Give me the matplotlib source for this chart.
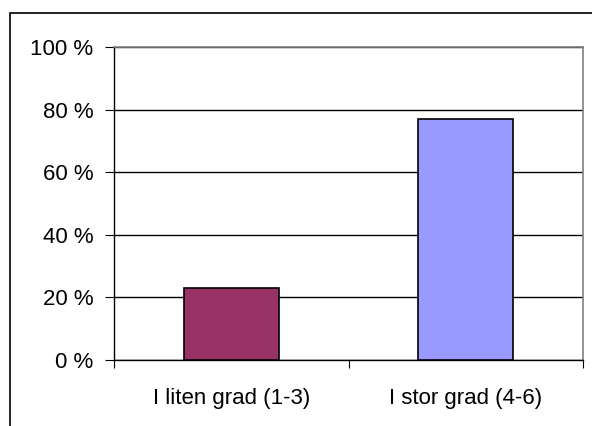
import matplotlib
matplotlib.use('Agg')
import matplotlib.pyplot as plt
from matplotlib.patches import Rectangle

categories = ['I liten grad (1-3)', 'I stor grad (4-6)']
values = [23, 77]
colors = ['#993366', '#9999FF']
yticks = [0, 20, 40, 60, 80, 100]

plt.rcParams['font.family'] = ['Liberation Sans', 'DejaVu Sans']

fig = plt.figure(figsize=(5.92, 4.26), dpi=100)
ax = fig.add_axes([114 / 592, 66 / 426, 469 / 592, 313 / 426])

# outer chart border (cut off at right and bottom like the original)
fig.add_artist(Rectangle((10 / 592, -0.05), 1.0, 413 / 426 + 0.05,
                         transform=fig.transFigure, fill=False,
                         edgecolor='black', linewidth=1.2))

x = range(len(categories))
ax.bar(x, values, width=0.405, color=colors, edgecolor='black', linewidth=1.2, zorder=3)

ax.set_xlim(-0.5, 1.5)
ax.set_ylim(0, 100)
ax.set_yticks(yticks)
ax.set_yticklabels([str(v) + ' %' for v in yticks], fontsize=16)
ax.yaxis.grid(True, color='black', linewidth=1.0, zorder=0)

ax.set_xticks([-0.5, 0.5, 1.5], minor=False)
ax.set_xticklabels([])
ax.set_xticks([0, 1], minor=True)
ax.set_xticklabels(categories, minor=True, fontsize=16)
ax.tick_params(axis='x', which='major', direction='out', length=6, color='black')
ax.tick_params(axis='x', which='minor', length=0, pad=20)
ax.tick_params(axis='y', direction='out', length=6.5, pad=8.5)

for s in ['top', 'right']:
    ax.spines[s].set_color('#808080')
    ax.spines[s].set_linewidth(1.2)
for s in ['left', 'bottom']:
    ax.spines[s].set_color('black')
    ax.spines[s].set_linewidth(1.0)

fig.savefig('out.png', dpi=100)
